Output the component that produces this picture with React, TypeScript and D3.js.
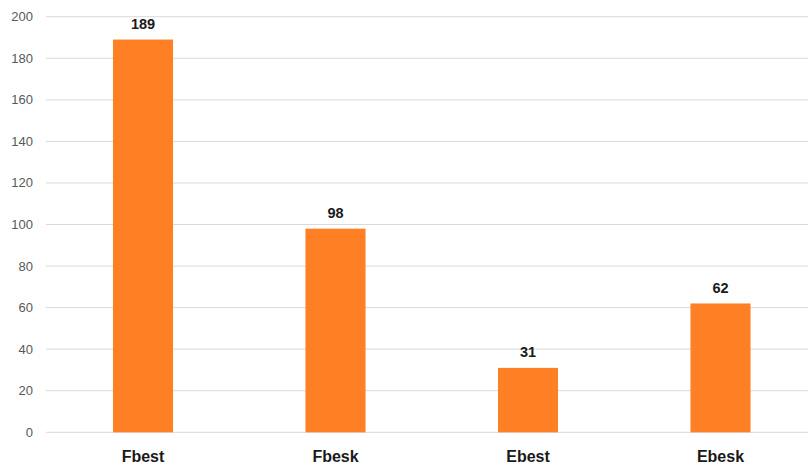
import React from "react";
import * as d3 from "d3";

const categories = ["Fbest", "Fbesk", "Ebest", "Ebesk"];
const values = [189, 98, 31, 62];
const yTicks = [0, 20, 40, 60, 80, 100, 120, 140, 160, 180, 200];

const W = 808;
const H = 465;
const FONT = "'Liberation Sans', Arial, sans-serif";

export default function App() {
  const x = d3
    .scaleBand<string>()
    .domain(categories)
    .range([46.75, 816.75])
    .paddingInner(0.688)
    .paddingOuter(0.344);
  const y = d3.scaleLinear().domain([0, 200]).range([432.3, 16.7]);

  return (
    <svg
      width={W}
      height={H}
      style={{ position: "absolute", left: 0, top: 0, background: "#fff" }}
    >
      {yTicks.map((t) => (
        <g key={t}>
          <line
            x1={46}
            x2={W}
            y1={y(t)}
            y2={y(t)}
            stroke="#d9d9d9"
            strokeWidth={1}
          />
          <text
            x={33}
            y={y(t)}
            dy="0.35em"
            textAnchor="end"
            fontFamily={FONT}
            fontSize={13}
            fill="#595959"
          >
            {t}
          </text>
        </g>
      ))}
      {categories.map((c, i) => {
        const bx = x(c) ?? 0;
        const v = values[i];
        return (
          <g key={c}>
            <rect
              x={bx}
              y={y(v)}
              width={x.bandwidth()}
              height={y(0) - y(v)}
              fill="#FF7F24"
            />
            <text
              x={bx + x.bandwidth() / 2}
              y={y(v) - 10.5}
              textAnchor="middle"
              fontFamily={FONT}
              fontWeight="bold"
              fontSize={14.5}
              fill="#1a1a1a"
            >
              {v}
            </text>
            <text
              x={bx + x.bandwidth() / 2}
              y={462}
              textAnchor="middle"
              fontFamily={FONT}
              fontWeight="bold"
              fontSize={16}
              fill="#1a1a1a"
            >
              {c}
            </text>
          </g>
        );
      })}
    </svg>
  );
}
